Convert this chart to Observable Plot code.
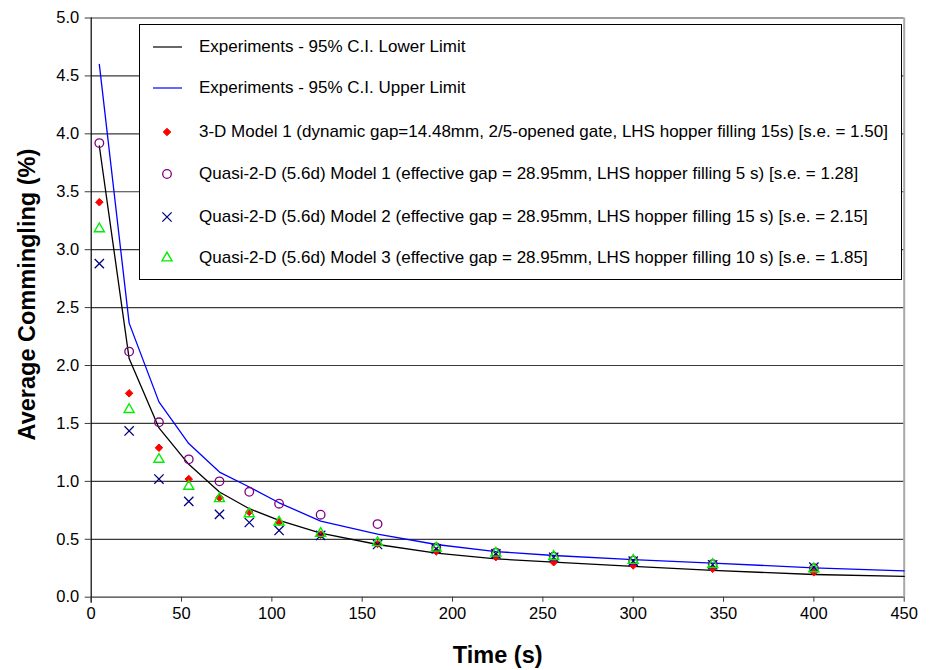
<!DOCTYPE html>
<html><head><meta charset="utf-8">
<script src="https://cdn.jsdelivr.net/npm/d3@7"></script>
<script src="https://cdn.jsdelivr.net/npm/@observablehq/plot@0.6"></script>
<style>
body{margin:0;background:#fff;font-family:"Liberation Sans",Arial,sans-serif;}
#wrap{position:relative;width:933px;height:670px;overflow:hidden;}
#legend{position:absolute;left:139px;top:24px;width:763px;height:256px;border:1px solid #000;background:#fff;box-sizing:border-box;}
.row{position:absolute;left:0;height:20px;line-height:20px;font-size:17px;white-space:nowrap;color:#000;}
.row svg{position:absolute;left:0;top:0;}
.row span{position:absolute;left:59px;top:0;}
g[aria-label="y-axis label"] text, g[aria-label="x-axis label"] text{font-size:23.5px;font-weight:bold;}
</style>
</head><body>
<div id="wrap"></div>
<script>
// ---- data ----
const times = [4.5, 21, 37.5, 54, 71, 87.5, 104, 127, 158.5, 191, 224, 256, 300, 344, 400];
const model3D1 = [3.41, 1.76, 1.29, 1.02, 0.86, 0.735, 0.648, 0.54, 0.46, 0.395, 0.346, 0.302, 0.274, 0.245, 0.216];
const quasiM1 = [3.92, 2.12, 1.51, 1.19, 1.0, 0.91, 0.807, 0.712, 0.631, 0.43, 0.385, 0.35, 0.315, 0.285, 0.25];
const quasiM2 = [2.88, 1.435, 1.02, 0.827, 0.715, 0.645, 0.576, 0.533, 0.455, 0.418, 0.374, 0.345, 0.311, 0.28, 0.259];
const quasiM3 = [3.18, 1.62, 1.19, 0.957, 0.85, 0.72, 0.648, 0.55, 0.47, 0.423, 0.38, 0.351, 0.317, 0.282, 0.245];

const lineTimes = [4.5, 21, 37.5, 54, 71, 87.5, 104, 127, 158.5, 191, 224, 256, 300, 344, 400, 450];
const ciLower = [3.895, 2.06, 1.461, 1.147, 0.908, 0.764, 0.663, 0.553, 0.455, 0.38, 0.331, 0.302, 0.266, 0.231, 0.196, 0.179];
const ciUpper = [4.60, 2.366, 1.686, 1.326, 1.08, 0.951, 0.815, 0.657, 0.544, 0.455, 0.394, 0.36, 0.325, 0.294, 0.254, 0.228];

const xTicks = [0, 50, 100, 150, 200, 250, 300, 350, 400, 450];
const yTicks = [0, 0.5, 1, 1.5, 2, 2.5, 3, 3.5, 4, 4.5, 5];

const seriesNames = [
  "Experiments - 95% C.I. Lower Limit",
  "Experiments - 95% C.I. Upper Limit",
  "3-D Model 1 (dynamic gap=14.48mm, 2/5-opened gate, LHS hopper filling 15s) [s.e. = 1.50]",
  "Quasi-2-D (5.6d) Model 1 (effective gap = 28.95mm, LHS hopper filling 5 s) [s.e. = 1.28]",
  "Quasi-2-D (5.6d) Model 2 (effective gap = 28.95mm, LHS hopper filling 15 s) [s.e. = 2.15]",
  "Quasi-2-D (5.6d) Model 3 (effective gap = 28.95mm, LHS hopper filling 10 s) [s.e. = 1.85]"
];

// ---- styles for series ----
const styles = [
  {type:"line", stroke:"#000000"},
  {type:"line", stroke:"#0000ff"},
  {type:"dot", symbol:"diamond2", r:3.4, fill:"#ff0000", stroke:"#ff0000", sw:1},
  {type:"dot", symbol:"circle", r:4.3, fill:"none", stroke:"#800080", sw:1.3},
  {type:"dot", symbol:"times", r:4.3, fill:"none", stroke:"#000080", sw:1.3},
  {type:"dot", symbol:"triangle2", r:4.8, fill:"none", stroke:"#00ee00", sw:1.4}
];

const lineTable = lineTimes.map((t, i) => ({t, lower: ciLower[i], upper: ciUpper[i]}));
const ptTable = times.map((t, i) => ({t, m3d: model3D1[i], q1: quasiM1[i], q2: quasiM2[i], q3: quasiM3[i]}));
const ptKeys = ["m3d", "q1", "q2", "q3"];

const marks = [
  Plot.gridY(yTicks, {stroke: "#3a3a3a", strokeOpacity: 1, strokeWidth: 1.2}),
  Plot.ruleX([450], {stroke: "#a8a8a8", strokeWidth: 2}),
  Plot.ruleX([0], {stroke: "#000", strokeWidth: 1.2, insetBottom: -6}),
  Plot.axisY({ticks: yTicks, tickSize: 6, tickPadding: 6, tickFormat: d3.format(".1f"),
    label: "Average Commingling (%)", labelAnchor: "center", labelOffset: 73, labelArrow: "none",
    stroke: "#3a3a3a"}),
  Plot.axisX({ticks: xTicks, tickSize: 5, tickPadding: 5, tickFormat: d3.format("d"),
    label: "Time (s)", labelAnchor: "center", labelOffset: 66, labelArrow: "none",
    stroke: "#3a3a3a"}),
  Plot.line(lineTable, {x: "t", y: "lower", stroke: styles[0].stroke, strokeWidth: 1.3}),
  Plot.line(lineTable, {x: "t", y: "upper", stroke: styles[1].stroke, strokeWidth: 1.3})
];
ptKeys.forEach((k, j) => {
  const s = styles[j + 2];
  marks.push(Plot.dot(ptTable, {x: "t", y: k, symbol: s.symbol, r: s.r, fill: s.fill, stroke: s.stroke, strokeWidth: s.sw}));
});

const chart = Plot.plot({
  width: 933, height: 670,
  marginLeft: 90.7, marginRight: 29.3, marginTop: 17.5, marginBottom: 73.3,
  x: {domain: [0, 450]},
  y: {domain: [0, 5]},
  style: {fontFamily: "'Liberation Sans', Arial, sans-serif", fontSize: "16.5px", color: "#000", background: "#fff"},
  marks
});
// shift y-axis title up slightly (as in the reference)
const yl = chart.querySelector('g[aria-label="y-axis label"]');
if (yl) yl.setAttribute("transform", (yl.getAttribute("transform") || "") + " translate(0,-13)");
const wrap = document.getElementById("wrap");
wrap.appendChild(chart);

// ---- legend (HTML overlay inside plot area) ----
const legend = document.createElement("div");
legend.id = "legend";
const symMap = {diamond2: d3.symbolDiamond2, circle: d3.symbolCircle, times: d3.symbolTimes, triangle2: d3.symbolTriangle2};
const rowTops = [11.7, 53.3, 96.5, 139, 181.5, 223.3];
seriesNames.forEach((name, i) => {
  const s = styles[i];
  const row = document.createElement("div");
  row.className = "row";
  row.style.top = rowTops[i] + "px";
  let g;
  if (s.type === "line") {
    g = `<line x1="13" x2="42" y1="10" y2="10" stroke="${s.stroke}" stroke-width="1.2"/>`;
  } else {
    const p = d3.symbol(symMap[s.symbol], Math.PI * s.r * s.r)();
    g = `<path transform="translate(27,10)" d="${p}" fill="${s.fill}" stroke="${s.stroke}" stroke-width="${s.sw}"/>`;
  }
  row.innerHTML = `<svg width="56" height="20">${g}</svg><span>${name}</span>`;
  legend.appendChild(row);
});
wrap.appendChild(legend);
</script>
</body></html>
